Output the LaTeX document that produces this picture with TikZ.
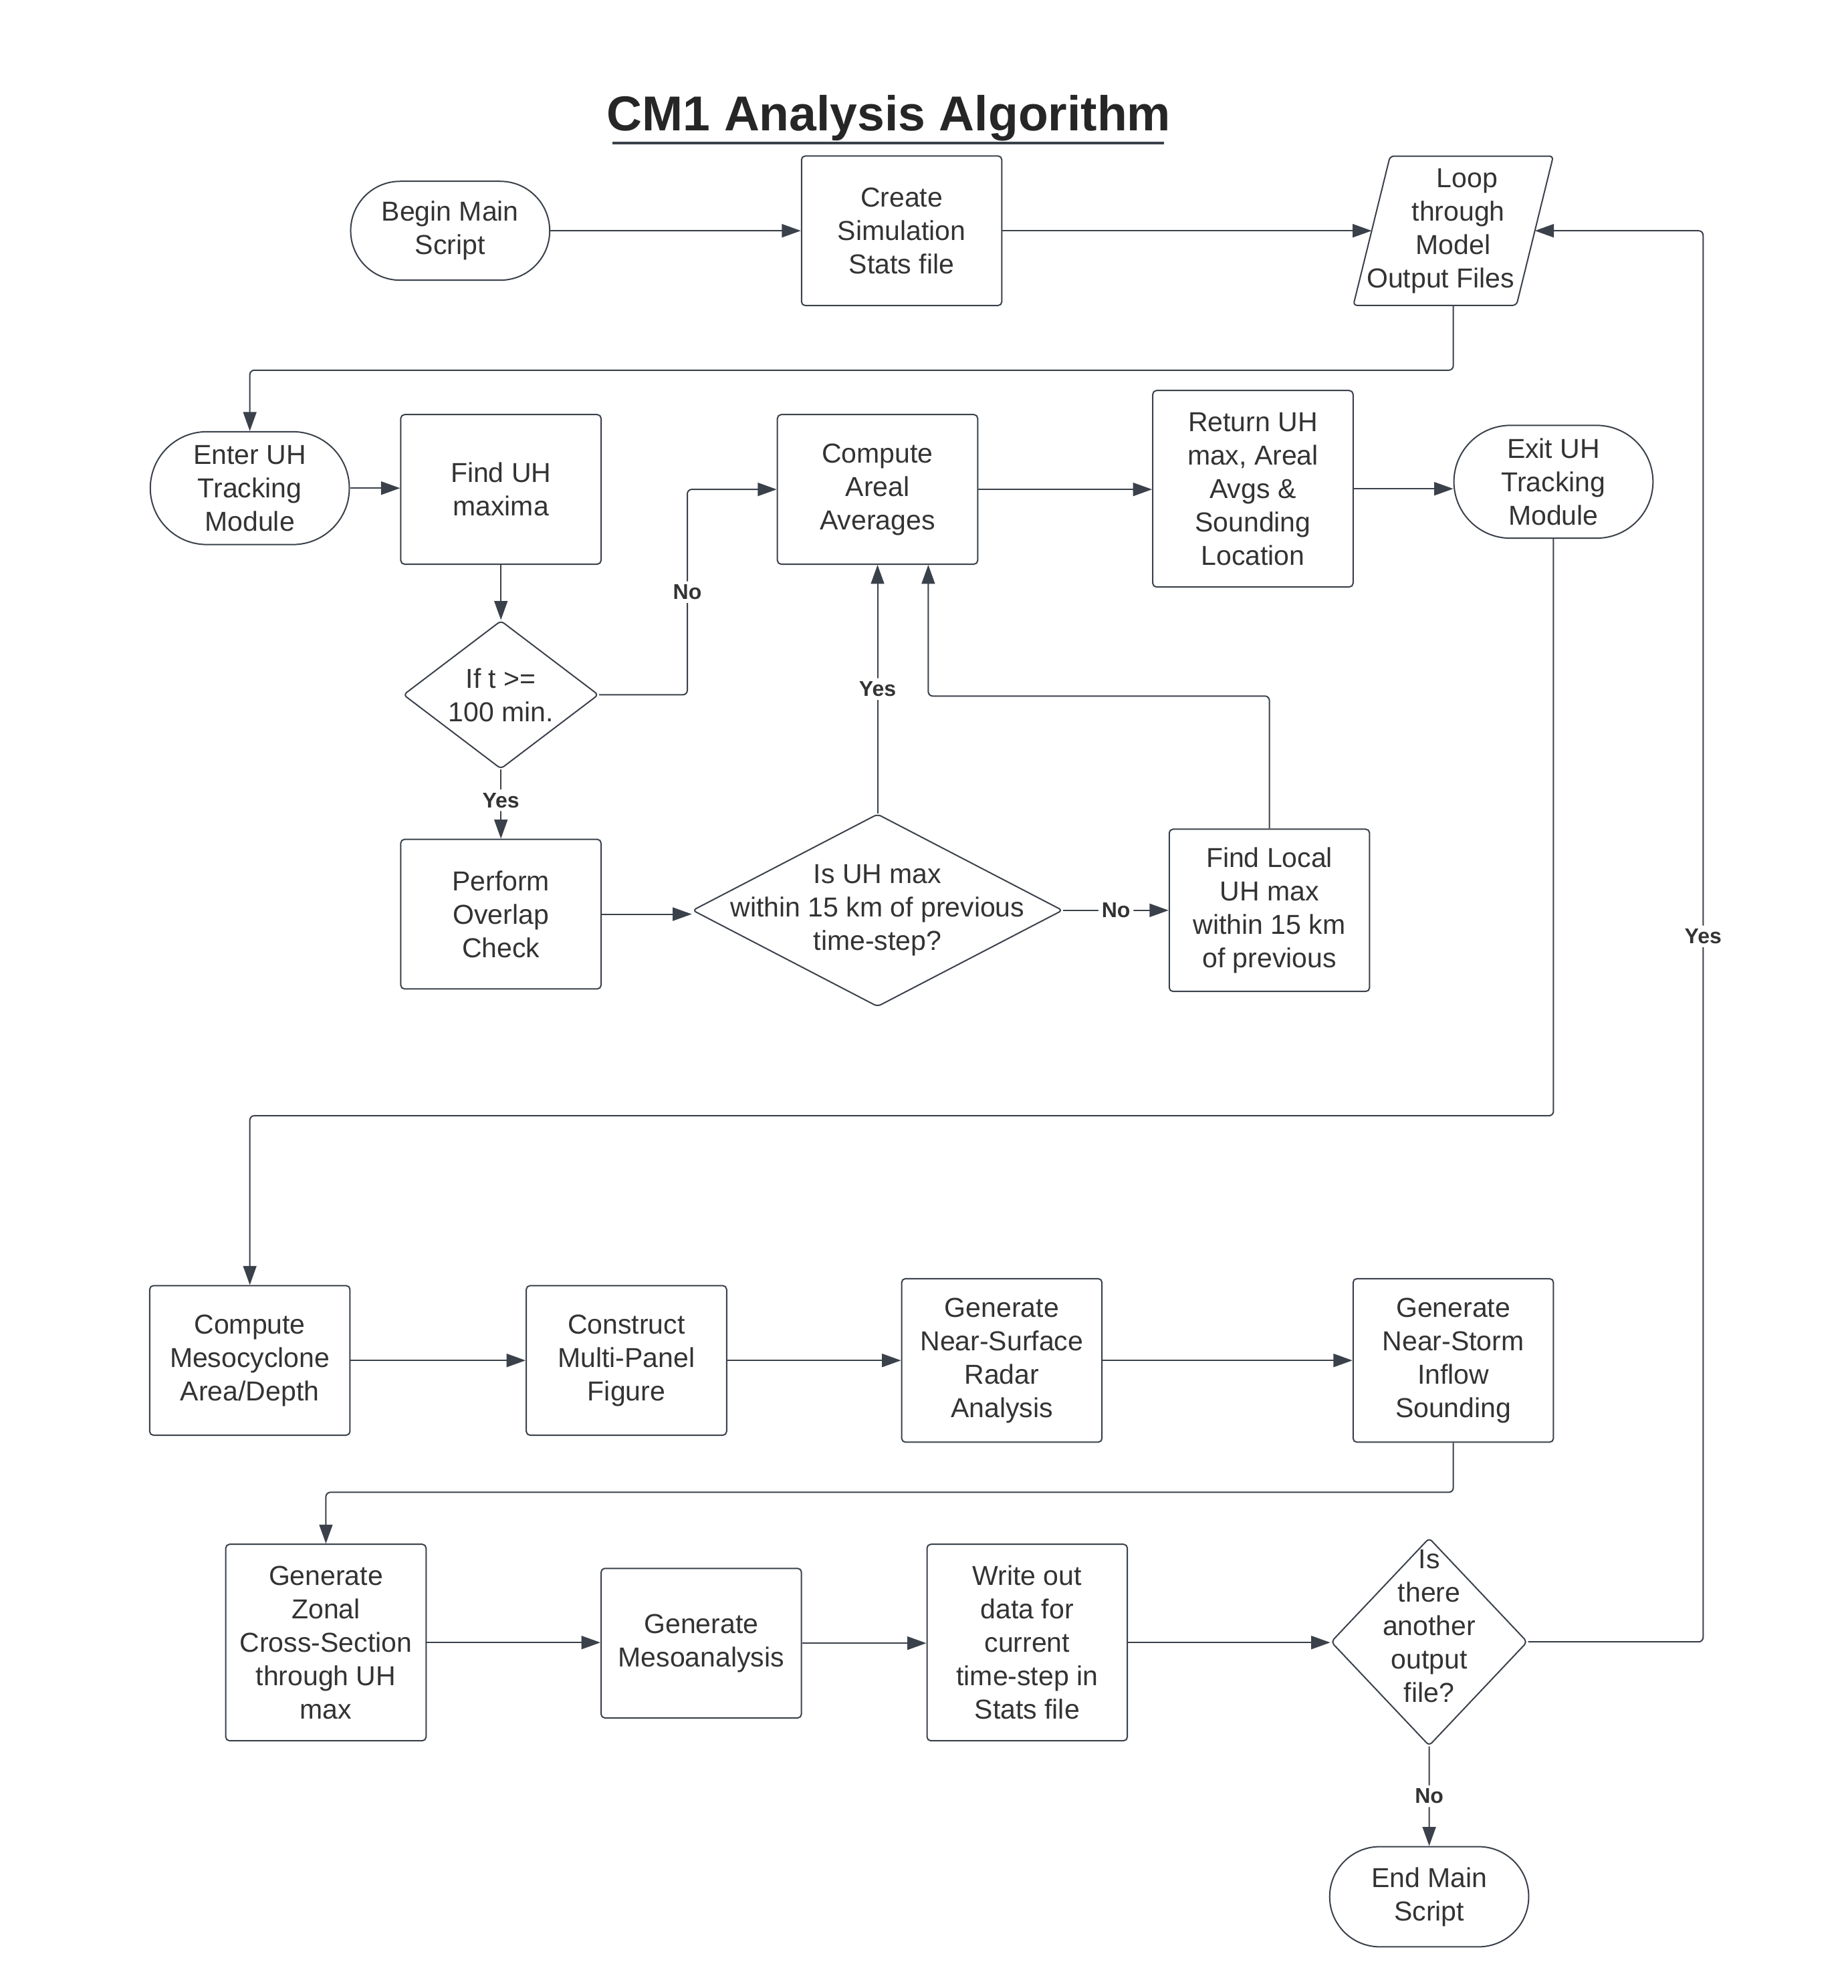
\documentclass[tikz,border=0pt]{standalone}
\usepackage{fontspec}
\setmainfont{Liberation Sans}
\usetikzlibrary{shapes.geometric,shapes.misc,arrows.meta,calc}
\definecolor{ink}{HTML}{3A414A}
\definecolor{txt}{HTML}{333333}
\tikzset{
  box/.style={draw=ink, line width=0.6pt, rounded corners=1.7pt, minimum width=3.16cm, minimum height=2.36cm, align=center, inner sep=0pt},
  term/.style={rounded rectangle, draw=ink, line width=0.6pt, minimum width=3.14cm, minimum height=1.78cm, align=center, inner sep=0pt},
  decide/.style={diamond, draw=ink, line width=0.6pt, rounded corners=1.7pt, inner sep=0pt},
  flow/.style={draw=ink, line width=0.6pt, rounded corners=2pt, -{Triangle[length=0.3cm,width=0.21cm]}},
  tag/.style={font=\fontsize{9.6}{11}\selectfont\bfseries, fill=white, inner sep=1.5pt}
}
\begin{document}
\begin{tikzpicture}[x=0.02cm, y=-0.02cm, text=txt, font=\fontsize{12.3}{15}\selectfont]
\useasboundingbox (0,0) rectangle (1457,1568);
% title
\node[font=\fontsize{22}{26}\selectfont\bfseries, text=black!85] (title) at (701,93) {CM1 Analysis Algorithm};
\draw[ink, line width=1.2pt] (483,113) -- (918,113);
%
% first row
\node[term, minimum height=1.56cm] (begin) at (355,182) {Begin Main\\Script};
\node[box] (create) at (711,182) {Create\\Simulation\\Stats file};
\node[minimum width=2.56cm, minimum height=2.34cm, inner sep=0pt,
  label={[align=center]center:{\hspace*{0.44cm}Loop\\\hspace*{0.16cm}through\\Model\hspace*{0.08cm}\\Output Files\hspace*{0.4cm}}}] (loop) at (1146,182) {};
\draw[ink, line width=0.6pt, rounded corners=1.7pt] ($(loop.north west)+(14.5,0)$) -- ($(loop.north east)+(14.5,0)$) -- ($(loop.south east)+(-14.5,0)$) -- ($(loop.south west)+(-14.5,0)$) -- cycle;
%
% tracking module
\node[term] (enter) at (197,385) {Enter UH\\Tracking\\Module};
\node[box] (find) at (395,386) {Find UH\\maxima};
\node[box] (compute) at (692,386) {Compute\\Areal\\Averages};
\node[box, minimum height=3.10cm] (retn) at (988,385.5) {Return UH\\max, Areal\\Avgs \&\\Sounding\\Location};
\node[term] (exit) at (1225,380) {Exit UH\\Tracking\\Module};
\node[decide, minimum width=3.08cm, minimum height=2.34cm, label={[align=center]center:{If t >=\\100 min.}}] (iftime) at (395,548) {};
\node[box] (perform) at (395,721) {Perform\\Overlap\\Check};
\node[decide, minimum width=5.84cm, minimum height=3.04cm, label={[align=center]center:{Is UH max\\within 15 km of previous\\time-step?}}] (check) at (692,718) {};
\node[box, minimum height=2.56cm] (local) at (1001,718) {Find Local\\UH max\\within 15 km\\of previous};
%
% analysis rows
\node[box] (meso) at (197,1073) {Compute\\Mesocyclone\\Area/Depth};
\node[box] (panel) at (494,1073) {Construct\\Multi-Panel\\Figure};
\node[box, minimum height=2.58cm] (radar) at (790,1073) {Generate\\Near-Surface\\Radar\\Analysis};
\node[box, minimum height=2.58cm] (sound) at (1146,1073) {Generate\\Near-Storm\\Inflow\\Sounding};
\node[box, minimum height=3.10cm] (zonal) at (257,1295.5) {Generate\\Zonal\\Cross-Section\\through UH\\max};
\node[box] (mesoan) at (553,1296) {Generate\\Mesoanalysis};
\node[box, minimum height=3.10cm] (write) at (810,1295.5) {Write out\\data for\\current\\time-step in\\Stats file};
\node[decide, minimum width=3.10cm, minimum height=3.28cm, label={[align=center, yshift=0.25cm]center:{Is\\there\\another\\output\\file?}}] (another) at (1127,1295) {};
\node[term, minimum height=1.58cm] (finish) at (1127,1496) {End Main\\Script};
%
% connectors
\coordinate (row1) at (0,292);
\coordinate (row2) at (0,880);
\coordinate (row3) at (0,1177);
\coordinate (nojoin) at (542,386);
\coordinate (backjoin) at (732,549);
\coordinate (yescol) at (1343,0);
\draw[flow] (begin) -- (create);
\draw[flow] (create) -- (loop);
\draw[flow] (loop.south) -- (loop.south |- row1) -- (enter.north |- row1) -- (enter.north);
\draw[flow] (enter.east) -- (enter.east -| find.west);
\draw[flow] (find) -- (iftime);
\draw[flow] (iftime.east) -| (nojoin) node[tag, pos=0.75] {No} -- (compute.west);
\draw[flow] (iftime) -- (perform) node[tag, midway, yshift=0.06cm] {Yes};
\draw[flow] (perform.east) -- (perform.east -| check.west);
\draw[flow] (check) -- (compute) node[tag, midway] {Yes};
\draw[flow] (check) -- (local) node[tag, midway] {No};
\draw[flow] (local.north) |- (backjoin) -- (backjoin |- compute.south);
\draw[flow] (compute.east) -- (compute.east -| retn.west);
\draw[flow] (retn.east) -- (retn.east -| exit.west);
\draw[flow] (exit.south) -- (exit.south |- row2) -- (meso.north |- row2) -- (meso.north);
\draw[flow] (meso) -- (panel);
\draw[flow] (panel) -- (radar);
\draw[flow] (radar) -- (sound);
\draw[flow] (sound.south) -- (sound.south |- row3) -- (zonal.north |- row3) -- (zonal.north);
\draw[flow] (zonal.east) -- (zonal.east -| mesoan.west);
\draw[flow] (mesoan.east) -- (mesoan.east -| write.west);
\draw[flow] (write.east) -- (write.east -| another.west);
\draw[flow] (another.east) -| (loop.east -| yescol) node[tag, pos=0.75] {Yes} -- (loop.east);
\draw[flow] (another) -- (finish) node[tag, midway] {No};
\end{tikzpicture}
\end{document}
